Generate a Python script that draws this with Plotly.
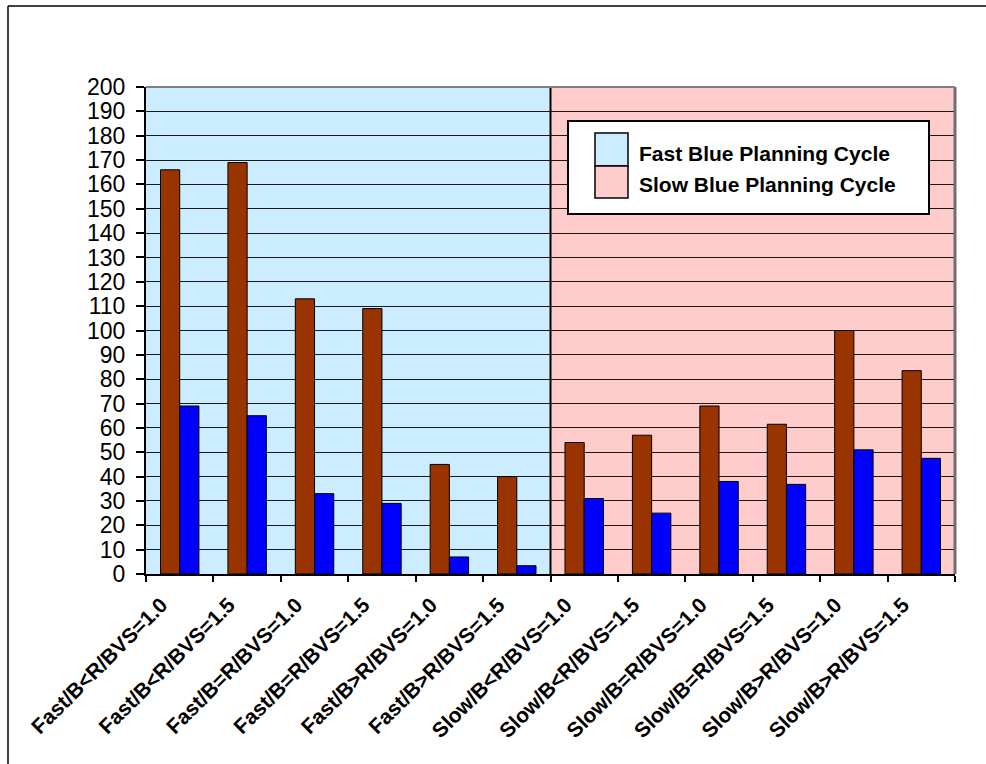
import plotly.graph_objects as go

# Scenario labels (planning cycle / force ratio / BVS)
categories = [
    "Fast/B<R/BVS=1.0", "Fast/B<R/BVS=1.5",
    "Fast/B=R/BVS=1.0", "Fast/B=R/BVS=1.5",
    "Fast/B>R/BVS=1.0", "Fast/B>R/BVS=1.5",
    "Slow/B<R/BVS=1.0", "Slow/B<R/BVS=1.5",
    "Slow/B=R/BVS=1.0", "Slow/B=R/BVS=1.5",
    "Slow/B>R/BVS=1.0", "Slow/B>R/BVS=1.5",
]
red_values = [166, 169, 113, 109, 45, 40, 54, 57, 69, 61.5, 100, 83.5]
blue_values = [69, 65, 33, 29, 7, 3.4, 31, 25, 38, 36.8, 51, 47.5]
y_ticks = list(range(0, 201, 10))
legend_labels = ["Fast Blue Planning Cycle", "Slow Blue Planning Cycle"]

FONT = "Arial, Liberation Sans, sans-serif"
FAST_BG = "#CCECFF"
SLOW_BG = "#FFCCCC"

W, H = 986, 764
L, R, T, B = 146, 31, 87, 190
pw, ph = W - L - R, H - T - B


def px(x):
    return (x - L) / pw


def py(y):
    return (H - B - y) / ph


xs = list(range(len(categories)))
half = len(categories) / 2

fig = go.Figure()
fig.add_trace(go.Bar(
    x=xs, y=red_values, name="Red",
    marker=dict(color="#993300", line=dict(color="#000000", width=1)),
    showlegend=False,
))
fig.add_trace(go.Bar(
    x=xs, y=blue_values, name="Blue",
    marker=dict(color="#0000FF", line=dict(color="#000000", width=1)),
    showlegend=False,
))

shapes = [
    # shaded planning-cycle panes
    dict(type="rect", xref="x", yref="y", x0=-0.5, x1=half - 0.5, y0=0, y1=200,
         fillcolor=FAST_BG, line=dict(width=0), layer="below"),
    dict(type="rect", xref="x", yref="y", x0=half - 0.5, x1=len(categories) - 0.5, y0=0, y1=200,
         fillcolor=SLOW_BG, line=dict(width=0), layer="below"),
    # pane divider
    dict(type="line", xref="x", yref="y", x0=half - 0.5, x1=half - 0.5, y0=0, y1=200,
         line=dict(color="#000000", width=2), layer="between"),
    # plot edges
    dict(type="line", xref="paper", yref="paper", x0=1, x1=1, y0=0, y1=1,
         line=dict(color="#6E6E6E", width=3)),
    dict(type="line", xref="paper", yref="paper", x0=0, x1=1, y0=1, y1=1,
         line=dict(color="#808080", width=2)),
    # outer frame
    dict(type="line", xref="paper", yref="paper", x0=px(8), x1=px(8), y0=py(6), y1=py(H),
         line=dict(color="#000000", width=1.5)),
    dict(type="line", xref="paper", yref="paper", x0=px(8), x1=px(W), y0=py(6), y1=py(6),
         line=dict(color="#000000", width=1.5)),
    # legend box
    dict(type="rect", xref="paper", yref="paper", x0=px(568), x1=px(929), y0=py(214), y1=py(121),
         fillcolor="#FFFFFF", line=dict(color="#000000", width=2)),
    dict(type="rect", xref="paper", yref="paper", x0=px(595), x1=px(628), y0=py(166), y1=py(133),
         fillcolor=FAST_BG, line=dict(color="#000000", width=1.5)),
    dict(type="rect", xref="paper", yref="paper", x0=px(595), x1=px(628), y0=py(198), y1=py(166),
         fillcolor=SLOW_BG, line=dict(color="#000000", width=1.5)),
]

annotations = [
    dict(xref="paper", yref="paper", x=px(637), y=py(yy), text=f"<b>{t}</b>",
         showarrow=False, xanchor="left", yanchor="middle",
         font=dict(family=FONT, size=21, color="#000000"))
    for t, yy in zip(legend_labels, [153, 184])
]

fig.update_layout(
    width=W, height=H,
    margin=dict(l=L, r=R, t=T, b=B, pad=0),
    paper_bgcolor="#FFFFFF",
    plot_bgcolor="#FFFFFF",
    barmode="group",
    bargap=0.43,
    bargroupgap=0,
    shapes=shapes,
    annotations=annotations,
    showlegend=False,
    font=dict(family=FONT, color="#000000"),
)

fig.update_xaxes(
    type="linear",
    range=[-0.5, len(categories) - 0.5],
    tickmode="array",
    tickvals=xs,
    ticktext=[f"<b>{c}</b>\u00a0\u00a0" for c in categories],
    tickangle=-45,
    ticklabelshift=-10,
    tickfont=dict(family=FONT, size=21, color="#000000"),
    ticks="",
    showgrid=False,
    zeroline=False,
    showline=True, linecolor="#000000", linewidth=2,
    minor=dict(tickmode="array", tickvals=[i - 0.5 for i in range(len(categories) + 1)],
               ticks="outside", ticklen=6, tickcolor="#000000", tickwidth=1.5, showgrid=False),
)

fig.update_yaxes(
    range=[0, 200],
    tickmode="array",
    tickvals=y_ticks,
    ticks="outside", ticklen=8, tickcolor="#000000", tickwidth=1.5,
    ticklabelstandoff=6,
    tickfont=dict(family=FONT, size=23, color="#000000"),
    showgrid=True, gridcolor="#1A1A1A", gridwidth=1,
    zeroline=False,
    showline=True, linecolor="#000000", linewidth=2,
)

fig.write_html("out.html")
